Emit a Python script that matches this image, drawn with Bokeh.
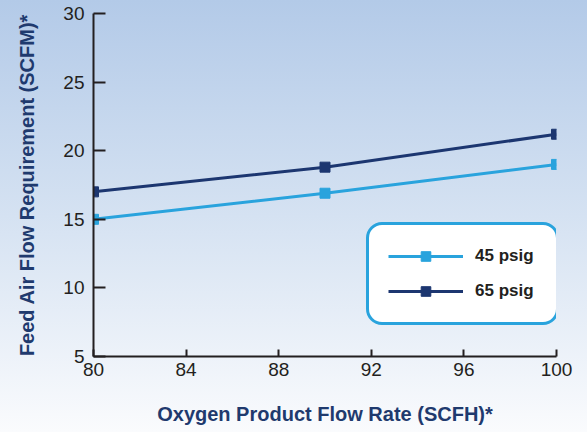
from bokeh.plotting import figure
from bokeh.models import Legend, LegendItem, Range1d, FixedTicker
from bokeh.embed import file_html
from bokeh.resources import INLINE

oxygen_flow = [80, 90, 100]
psig45 = [15.0, 16.9, 19.0]
psig65 = [17.0, 18.8, 21.2]
series_names = ["45 psig", "65 psig"]
x_ticks = [80, 84, 88, 92, 96, 100]
y_ticks = [5, 10, 15, 20, 25, 30]

light = "#29a3dd"
navy = "#1c3670"
title_navy = "#1f3a6e"
font = "Liberation Sans"

p = figure(width=587, height=432, output_backend="svg", toolbar_location=None,
           x_range=Range1d(80, 100), y_range=Range1d(5, 30),
           min_border_left=93, min_border_right=31, min_border_top=13, min_border_bottom=76)
p.background_fill_color = None
p.border_fill_color = None
p.outline_line_color = None
p.styles = {"background": "linear-gradient(to bottom, #b3cae8 0%, #d5e2f2 50%, #fafbfd 100%)"}
p.grid.visible = False

for ax in (p.xaxis[0], p.yaxis[0]):
    ax.axis_line_color = "#231f20"
    ax.axis_line_width = 2
    ax.major_tick_line_color = "#231f20"
    ax.major_tick_line_width = 2
    ax.major_tick_out = 0
    ax.minor_tick_line_color = None
    ax.major_label_text_font = font
    ax.major_label_text_font_size = "19px"
    ax.major_label_text_color = "#231f20"
    ax.axis_label_text_font = font
    ax.axis_label_text_font_style = "bold"
    ax.axis_label_text_font_size = "20px"
    ax.axis_label_text_color = title_navy

p.xaxis.major_tick_in = 7
p.yaxis.major_tick_in = 12
p.xaxis.ticker = FixedTicker(ticks=x_ticks)
p.yaxis.ticker = FixedTicker(ticks=y_ticks)
p.xaxis.axis_label = "Oxygen Product Flow Rate (SCFH)*"
p.yaxis.axis_label = "Feed Air Flow Requirement (SCFM)*"
p.xaxis.major_label_standoff = 6
p.yaxis.major_label_standoff = 9
p.xaxis.axis_label_standoff = 24
p.yaxis.axis_label_standoff = 22

l1 = p.line(oxygen_flow, psig45, line_color=light, line_width=3)
m1 = p.scatter(oxygen_flow, psig45, marker="square", size=10, fill_color=light, line_color=light)
l2 = p.line(oxygen_flow, psig65, line_color=navy, line_width=3)
m2 = p.scatter(oxygen_flow, psig65, marker="square", size=10, fill_color=navy, line_color=navy)

legend = Legend(items=[LegendItem(label=series_names[0], renderers=[l1, m1]),
                       LegendItem(label=series_names[1], renderers=[l2, m2])],
                location=(273, 31))
legend.border_line_color = light
legend.border_line_width = 3
legend.border_line_alpha = 1
legend.background_fill_color = "white"
legend.background_fill_alpha = 1
legend.border_radius = 16
legend.padding = 19
legend.glyph_width = 75
legend.glyph_height = 24
legend.spacing = 11
legend.label_standoff = 12
legend.label_width = 62
legend.label_text_font = font
legend.label_text_font_style = "bold"
legend.label_text_font_size = "17px"
legend.label_text_color = "#231f20"
legend.margin = 0
p.add_layout(legend, "center")

open("out.html", "w").write(file_html(p, INLINE))
